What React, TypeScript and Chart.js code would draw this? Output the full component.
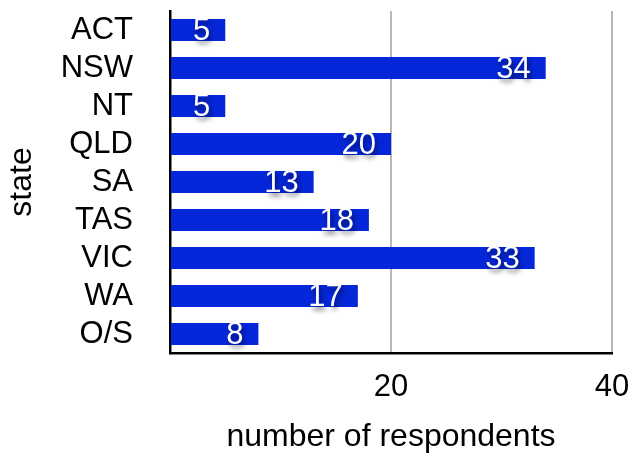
import React, { useEffect, useRef } from "react";
import { Chart, registerables } from "chart.js";

Chart.register(...registerables);

const categories = ["ACT", "NSW", "NT", "QLD", "SA", "TAS", "VIC", "WA", "O/S"];
const respondents = [5, 34, 5, 20, 13, 18, 33, 17, 8];
const xTicks = [0, 20, 40];

const FONT = "'Liberation Sans', Arial, Helvetica, sans-serif";

const barLabels = {
  id: "barLabels",
  afterDatasetsDraw(chart: any) {
    const ctx = chart.ctx;
    const meta = chart.getDatasetMeta(0);
    const data = chart.data.datasets[0].data as number[];
    ctx.save();
    ctx.font = `31px ${FONT}`;
    ctx.fillStyle = "#ffffff";
    ctx.textAlign = "right";
    ctx.textBaseline = "middle";
    ctx.shadowColor = "rgba(0,0,0,0.55)";
    ctx.shadowBlur = 5;
    ctx.shadowOffsetX = 2;
    ctx.shadowOffsetY = 4;
    meta.data.forEach((bar: any, i: number) => {
      ctx.fillText(String(data[i]), bar.x - 15, bar.y + 1);
    });
    ctx.restore();
  },
};

const zeroPad = (scale: any) => {
  scale.paddingTop = 0;
  scale.paddingBottom = 0;
  scale.paddingLeft = 0;
  scale.paddingRight = 0;
};

export default function App() {
  const ref = useRef<HTMLCanvasElement | null>(null);
  useEffect(() => {
    document.body.style.margin = "0";
    if (!ref.current) return;
    const chart = new Chart(ref.current, {
      type: "bar",
      data: {
        labels: categories,
        datasets: [
          {
            data: respondents,
            backgroundColor: "#0627d9",
            borderWidth: 0,
            barPercentage: 0.58,
            categoryPercentage: 1,
          },
        ],
      },
      options: {
        indexAxis: "y",
        animation: false,
        responsive: false,
        maintainAspectRatio: false,
        devicePixelRatio: 1,
        layout: { padding: { top: 11, right: 18, left: 0, bottom: 0 } },
        plugins: { legend: { display: false }, tooltip: { enabled: false } },
        scales: {
          x: {
            type: "linear",
            min: xTicks[0],
            max: xTicks[xTicks.length - 1],
            afterBuildTicks(scale: any) {
              scale.ticks = xTicks.map((v) => ({ value: v }));
            },
            afterFit(scale: any) {
              scale.height = 106;
              zeroPad(scale);
            },
            ticks: {
              padding: 16,
              color: "#000",
              font: { family: FONT, size: 31 },
              callback: (v: any) => (v === 0 ? "" : String(v)),
              maxRotation: 0,
              autoSkip: false,
            },
            grid: {
              drawTicks: false,
              lineWidth: 2,
              color: (c: any) => (c.tick && c.tick.value === 0 ? "rgba(0,0,0,0)" : "#b8b8b8"),
            },
            border: { display: true, color: "#000", width: 2.5 },
            title: {
              display: true,
              text: "number of respondents",
              color: "#000",
              font: { family: FONT, size: 32 },
              padding: { top: 0, bottom: 3 },
            },
          },
          y: {
            afterFit(scale: any) {
              scale.width = 170;
              zeroPad(scale);
            },
            ticks: {
              padding: 37,
              color: "#000",
              font: { family: FONT, size: 31 },
              autoSkip: false,
            },
            grid: { display: false, drawTicks: false },
            border: { display: true, color: "#000", width: 2.5 },
            title: {
              display: true,
              text: "state",
              color: "#000",
              font: { family: FONT, size: 32 },
              padding: { top: 3, bottom: 0 },
            },
          },
        },
      },
      plugins: [barLabels],
    });
    return () => chart.destroy();
  }, []);
  return (
    <div style={{ width: 630, height: 459 }}>
      <canvas ref={ref} width={630} height={459} style={{ display: "block" }} />
    </div>
  );
}
